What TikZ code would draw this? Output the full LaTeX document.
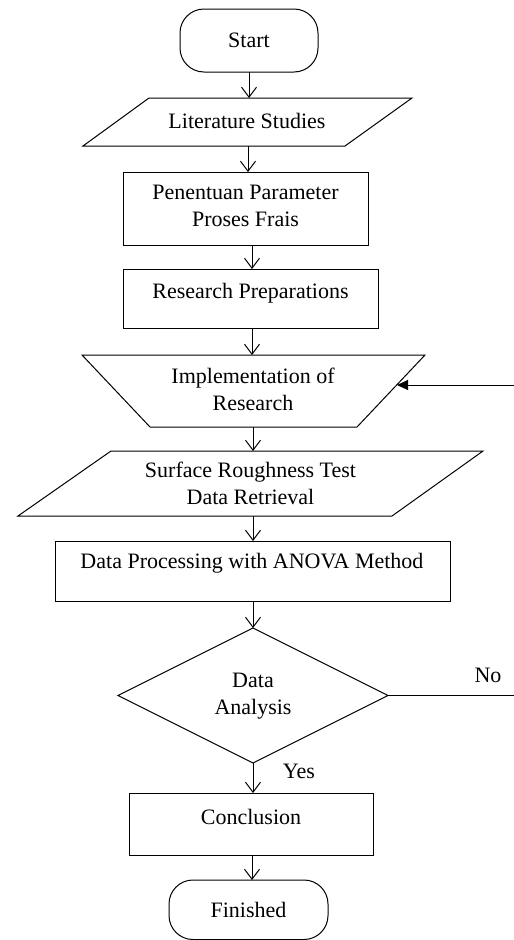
\documentclass[tikz,border=0pt]{standalone}
\usepackage{fontspec}
\setmainfont{Liberation Serif}
\usetikzlibrary{arrows.meta,shapes.geometric}
\begin{document}
\begin{tikzpicture}[x=1pt,y=-1pt,
  shp/.style={draw=black, line width=1pt, line join=miter},
  boxnode/.style={shp, inner sep=0pt, outer sep=0pt},
  txt/.style={font=\fontsize{22}{27}\selectfont, align=center, inner sep=0pt},
  flow/.style={draw, line width=1pt, -{Straight Barb[length=10pt,width=15pt]}},
  fb/.style={draw, line width=1pt, -{Triangle[length=11pt,width=10pt]}}]
\useasboundingbox (0,0) rectangle (514,940);

% Start
\node[boxnode, rounded corners=24pt, minimum width=138pt, minimum height=63pt, txt, draw] (start) at (249,40.5) {Start};

% Literature Studies
\draw[shp] (149,98) -- (412,98) -- (345,146) -- (83,146) -- cycle;
\coordinate (littop) at (249,98);
\coordinate (litbot) at (248,146);
\node[txt] (littxt) at (247,121) {Literature Studies};

% Penentuan
\node[boxnode, minimum width=245pt, minimum height=73pt] (pen) at (245.5,208.5) {};
\node[txt] (pentxt) at (245.5,206) {Penentuan Parameter\\Proses Frais};
\coordinate (penbot) at (252,245);

% Research Preparations
\node[boxnode, minimum width=255pt, minimum height=59pt] (res) at (250.5,298.5) {};
\node[txt] (restxt) at (250.5,293) {Research Preparations};
\coordinate (resbot) at (252,328);

% Implementation
\draw[shp] (82,355) -- (425,355) -- (357,427) -- (150,427) -- cycle;
\coordinate (imptop) at (252,355);
\coordinate (impbot) at (253,427);
\node[txt] (imptxt) at (253,389) {Implementation of\\Research};

% Surface
\draw[shp] (111,451) -- (483,451) -- (392,516) -- (18,516) -- cycle;
\coordinate (surtop) at (253,451);
\coordinate (surbot) at (253,516);
\node[txt] (surtxt) at (250.5,483) {Surface Roughness Test\\Data Retrieval};

% Data processing
\node[boxnode, minimum width=395pt, minimum height=60pt] (proc) at (252.5,571) {};
\node[txt] (proctxt) at (252,563) {Data Processing with ANOVA Method};
\coordinate (procbot) at (253,601);

% Diamond
\node[shp, diamond, aspect=2, minimum width=270pt, minimum height=135pt, inner sep=0pt, outer sep=0pt] (dia) at (253,695.5) {};
\node[txt] (diatxt) at (253,696) {Data\\Analysis};
\coordinate (noend) at (514,695.5);
\node[txt] (notxt) at (488,675) {No};
\node[txt] (yestxt) at (299,771) {Yes};

% Feedback
\coordinate (fbstart) at (514,385);
\coordinate (fbend) at (397,385);

% Conclusion
\node[boxnode, minimum width=244pt, minimum height=62pt] (conc) at (251,824) {};
\node[txt] (conctxt) at (251,817) {Conclusion};
\coordinate (concbot) at (252,855);

% Finished
\node[boxnode, rounded corners=24pt, minimum width=159pt, minimum height=59.5pt, txt, draw] (fin) at (248.5,909.75) {Finished};

% connectors
\draw[flow] (start.south) -- (littop);
\draw[flow] (litbot) -- (litbot |- pen.north);
\draw[flow] (penbot) -- (penbot |- res.north);
\draw[flow] (resbot) -- (imptop);
\draw[flow] (impbot) -- (surtop);
\draw[flow] (surbot) -- (surbot |- proc.north);
\draw[flow] (procbot) -- (dia.north);
\draw[flow] (dia.south) -- (dia.south |- conc.north);
\draw[flow] (concbot) -- (concbot |- fin.north);
\draw[shp] (dia.east) -- (noend);
\draw[fb] (fbstart) -- (fbend);
\end{tikzpicture}
\end{document}
